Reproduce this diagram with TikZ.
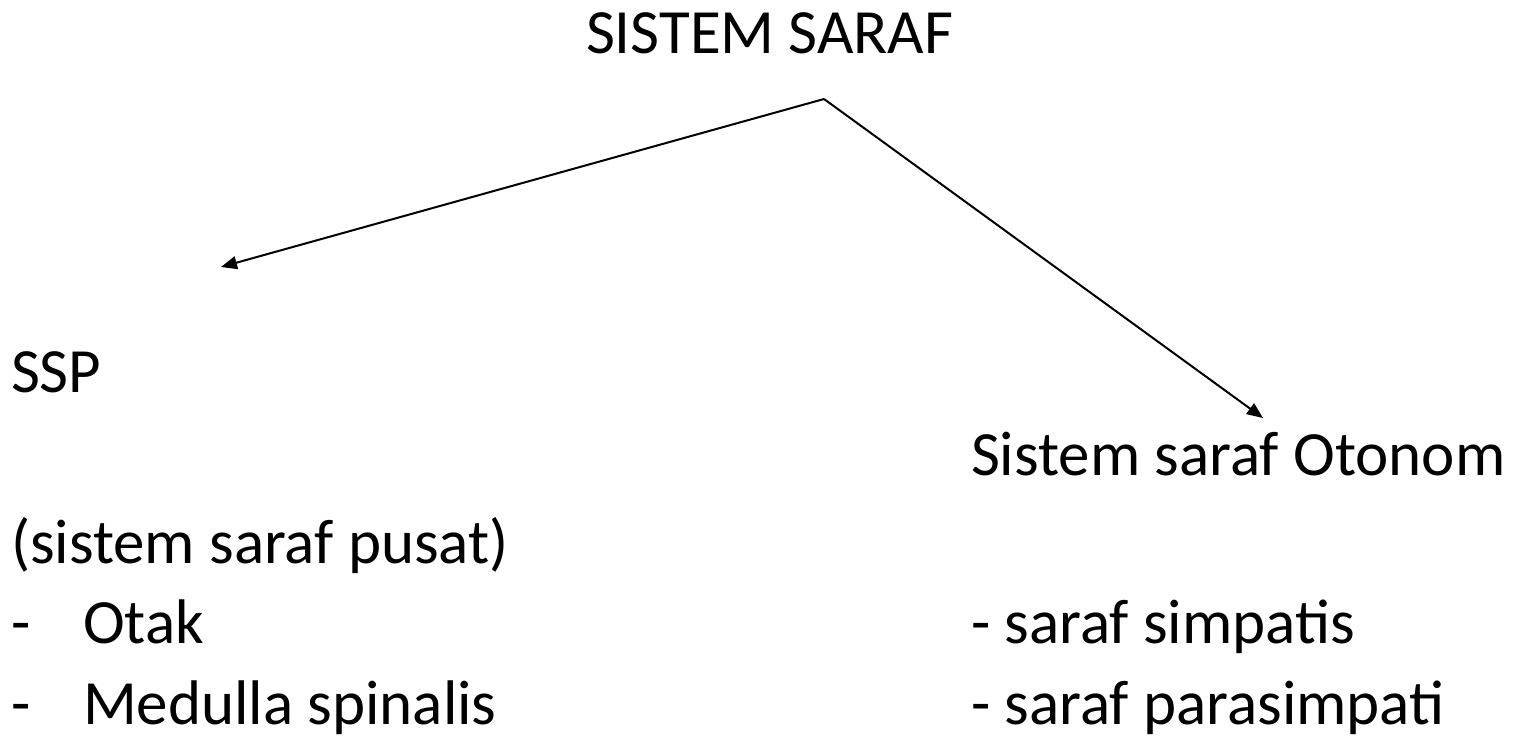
\documentclass[tikz,border=0pt]{standalone}
\usepackage{fontspec}
\setmainfont{Carlito}
\usetikzlibrary{arrows.meta}
\begin{document}
\begin{tikzpicture}[x=1pt,y=-1pt,
  lbl/.style={anchor=base west,inner sep=0pt,outer sep=0pt,font=\fontsize{63}{70}\selectfont},
  conn/.style={line width=2pt,-{Triangle[length=16pt,width=13pt]}}]
\useasboundingbox[fill=white] (0,0) rectangle (1515,739);
\node[lbl] (title) at (586,53) {SISTEM SARAF};
\node[lbl] (ssp) at (11,392) {SSP};
\node[lbl] (oto) at (971,475) {Sistem saraf Otonom};
\node[lbl] (pusat) at (11,563) {(sistem saraf pusat)};
\node[lbl] (d1) at (11,643) {-};
\node[lbl] (otak) at (83,643) {Otak};
\node[lbl] (d2) at (11,724) {-};
\node[lbl] (med) at (83,724) {Medulla spinalis};
\node[lbl] (simp) at (971,643) {- saraf simpatis};
\node[lbl] (para) at (971,724) {- saraf parasimpati};
\coordinate (apex) at (824,99);
\coordinate (tipL) at (221,267);
\coordinate (tipR) at (1263,418);
\draw[conn] (apex) -- (tipL);
\draw[conn] (apex) -- (tipR);
\end{tikzpicture}
\end{document}
